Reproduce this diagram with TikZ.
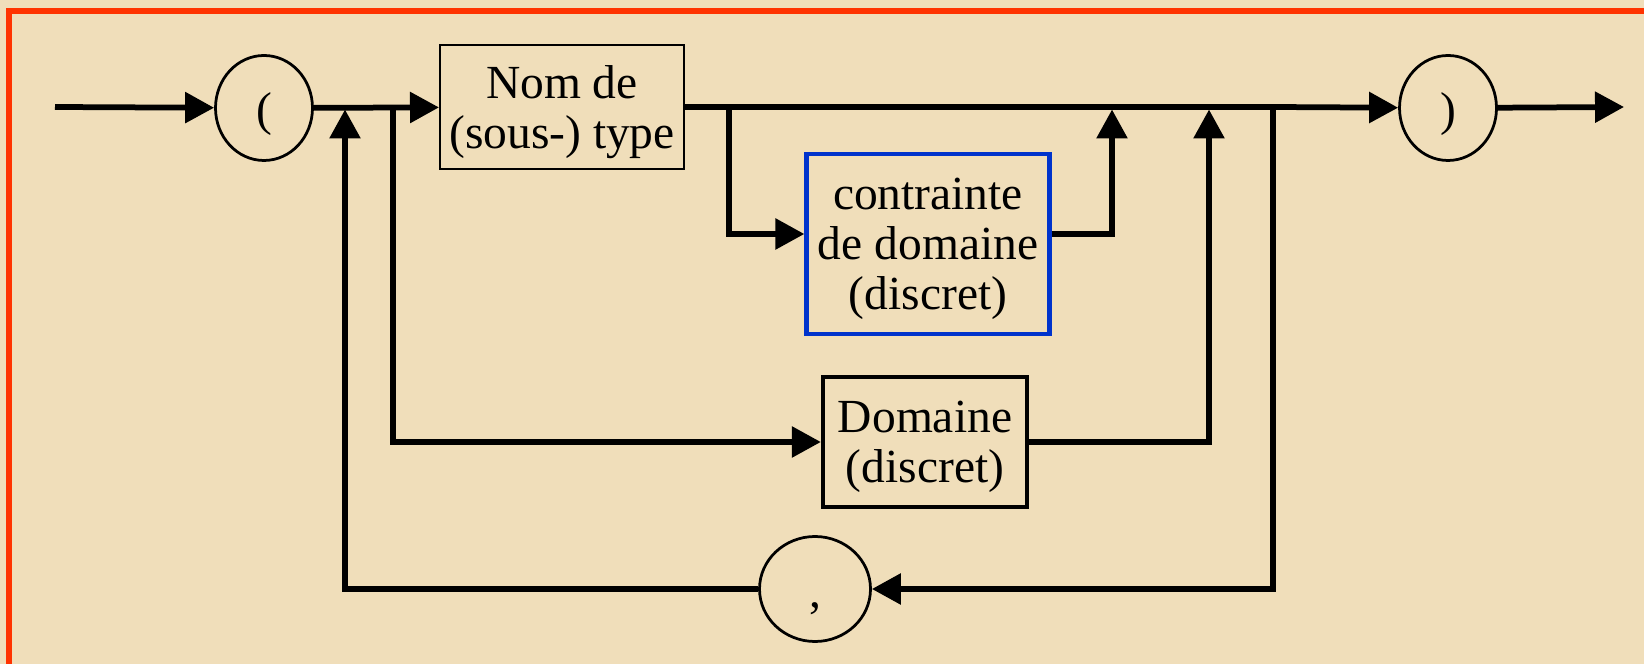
\documentclass[tikz,border=0pt]{standalone}
\usepackage{fontspec}
\setmainfont{Liberation Serif}
\usetikzlibrary{arrows.meta, shapes.geometric}
\definecolor{parchment}{RGB}{240,222,186}
\definecolor{frame}{RGB}{255,51,0}
\definecolor{constraint}{RGB}{0,51,204}

\begin{document}
\begin{tikzpicture}[x=0.4pt,y=-0.4pt,>={Triangle[length=11.6pt,width=12pt]}]
  % styles
  \tikzstyle{syn} = [rectangle,draw=black,align=center,inner sep=0pt,text depth=0pt,font=\fontsize{19pt}{20pt}\selectfont];
  \tikzstyle{term} = [ellipse,draw=black,line width=1.1pt,inner sep=0pt,text height=17pt,text depth=3.2pt,font=\fontsize{19pt}{20pt}\selectfont];
  \tikzstyle{rail} = [line width=2.3pt];

  % background
  \fill[parchment] (0,0) rectangle (1644,664);
  \useasboundingbox (0,0) rectangle (1644,664);
  \draw[frame,line width=2.4pt] (9,664) -- (9,11) -- (1644,11);

  % nodes
  \node[term,minimum width=38.8pt,minimum height=42pt] (lpar) at (264,108) {(};
  \node[syn,line width=0.8pt,minimum width=97.6pt,minimum height=49.6pt] (nom) at (562,107) {Nom de\\(sous-) type};
  \node[syn,draw=constraint,line width=1.7pt,minimum width=97.2pt,minimum height=72pt] (contr) at (928,244) {contrainte\\de domaine\\(discret)};
  \node[syn,line width=1.7pt,minimum width=81.6pt,minimum height=52pt] (dom) at (925,442) {Domaine\\(discret)};
  \node[term,text height=17.5pt,text depth=2.5pt,minimum width=44.4pt,minimum height=42pt] (comma) at (815,589) {,};
  \node[term,minimum width=38.8pt,minimum height=42pt] (rpar) at (1448,108) {)};

  % junctions
  \coordinate (in) at (55,107);
  \coordinate (out) at (1624,107);
  \coordinate (back) at (345,107);
  \coordinate (split) at (393,107);
  \coordinate (cin) at (729,107);
  \coordinate (cout) at (1112,107);
  \coordinate (dout) at (1209,107);
  \coordinate (loop) at (1273,107);

  % edges
  \draw[rail,->] (in) -- (lpar);
  \draw[rail,->] (lpar) -- (nom);
  \draw[rail] (nom) -- (loop);
  \draw[rail,->] (loop) -- (rpar);
  \draw[rail,->] (rpar) -- (out);
  \draw[rail,->] (cin) |- ([yshift=4pt]contr.west);
  \draw[rail,->,shorten >=1pt] ([yshift=4pt]contr.east) -| (cout);
  \draw[rail,->] (split) |- (dom);
  \draw[rail,->,shorten >=1pt] (dom) -| (dout);
  \draw[rail,->] (loop) |- (comma);
  \draw[rail,->,shorten >=1pt] (comma) -| (back);
\end{tikzpicture}
\end{document}
